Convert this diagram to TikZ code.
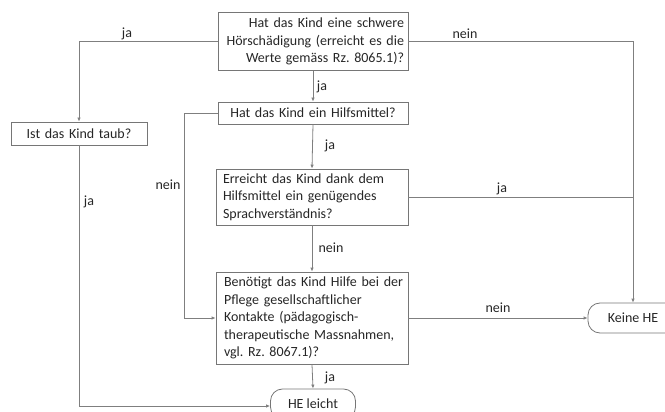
\documentclass[tikz,border=0pt]{standalone}
\usepackage{fontspec}
\setmainfont{Carlito}
\usetikzlibrary{arrows.meta}
\definecolor{ln}{HTML}{7F7F7F}
\definecolor{bx}{HTML}{767676}
\definecolor{tx}{HTML}{262626}
\begin{document}
\frenchspacing
\begin{tikzpicture}[x=1pt,y=-1pt,
  font=\fontsize{14}{17.5}\selectfont, text=tx,
  box/.style={draw=bx, line width=0.8pt, inner xsep=4pt, inner ysep=0pt, anchor=center},
  term/.style={draw=bx, line width=0.8pt, rounded corners=12pt, minimum width=85pt, minimum height=30pt, inner sep=0pt, anchor=center},
  conn/.style={draw=ln, line width=0.8pt},
  arr/.style={conn, -{Latex[length=4pt,width=3.5pt]}},
  lbl/.style={inner sep=0pt, anchor=center}
]
\useasboundingbox (0,0) rectangle (665,412);
\clip (0,0) rectangle (665,412);

\node[box, text width=182pt, minimum height=58pt, align=right] (q1) at (313,41.5)
  {Hat das Kind eine schwere\\Hörschädigung (erreicht es die\\Werte gemäss Rz. 8065.1)?};
\node[box, text width=182pt, minimum height=22pt, align=center] (q2) at (313,113)
  {Hat das Kind ein Hilfsmittel?};
\node[box, text width=184pt, minimum height=56pt, align=left] (q3) at (312,197)
  {\hspace*{3pt}Erreicht das Kind dank dem\\\hspace*{3pt}Hilfsmittel ein genügendes\\\hspace*{3pt}Sprachverständnis?};
\node[box, text width=184pt, minimum height=92pt, align=left] (q4) at (312,318)
  {\hspace*{4pt}Benötigt das Kind Hilfe bei der\\\hspace*{4pt}Pflege gesellschaftlicher\\\hspace*{4pt}Kontakte (pädagogisch-\\\hspace*{4pt}therapeutische Massnahmen,\\\hspace*{4pt}vgl. Rz. 8067.1)?};
\node[box, text width=128pt, minimum height=23pt, align=center] (taub) at (79,133.5)
  {Ist das Kind taub?};
\node[term] (he) at (313,404) {HE leicht};
\node[term, minimum width=90pt] (keine) at (633,318) {Keine HE};

\draw[arr] (q1.west) -| (taub.north);
\draw[arr] (q1.east) -| (keine.north);
\draw[arr] (q1.south) -- (q2.north);
\draw[arr] (q2.south) -- (q3.north);
\draw[arr] (q2.west) -- ++(-33,0) |- (q4.west);
\draw[conn] (q3.east) -- (q3.east -| keine.north);
\draw[arr] (q3.south) -- (q4.north);
\draw[arr] (q4.east) -- (keine.west);
\draw[arr] (q4.south) -- (he.north);
\draw[arr] (taub.south) |- ([yshift=-2pt]he.west);

\node[lbl] (l1) at (127,34) {ja};
\node[lbl] (l2) at (465,34) {nein};
\node[lbl] (l3) at (322,87) {ja};
\node[lbl] (l4) at (330,146) {ja};
\node[lbl] (l5) at (168,185) {nein};
\node[lbl] (l6) at (502,189) {ja};
\node[lbl] (l7) at (331,248) {nein};
\node[lbl] (l8) at (498,308) {nein};
\node[lbl] (l9) at (330,378) {ja};
\node[lbl] (l10) at (89,202) {ja};
\end{tikzpicture}
\end{document}
